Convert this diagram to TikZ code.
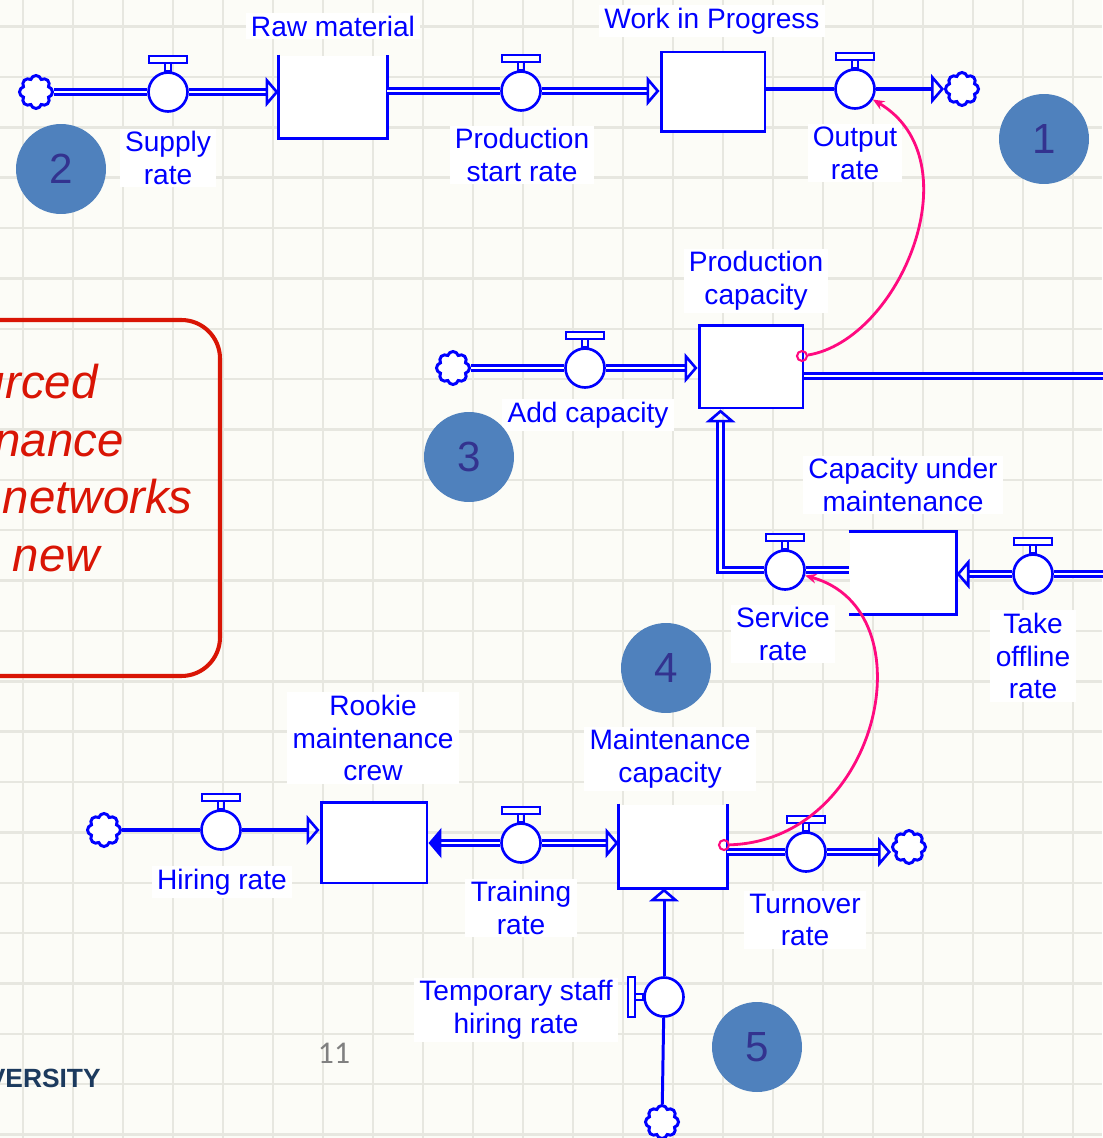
\documentclass[tikz,border=0pt]{standalone}
\usepackage{fontspec}
\setmainfont{Liberation Sans}
\newfontfamily\pagefont{Carlito}
\usetikzlibrary{arrows.meta,shapes.symbols}
\definecolor{sdblue}{HTML}{0000FF}
\definecolor{sdpink}{HTML}{FF0A80}
\definecolor{tagblue}{HTML}{4F81BD}
\definecolor{tagtext}{HTML}{33338F}
\definecolor{boxred}{HTML}{D91505}
\definecolor{gridc}{HTML}{E7E7E0}
\definecolor{paper}{HTML}{FCFCF7}
\definecolor{uninavy}{HTML}{1C3A5E}
\def\px{0.02cm}
% valve handle on top / on the left of a valve node
\newcommand{\valvetop}[1]{%
  \draw[handle] ([xshift=-3*\px]#1.north) rectangle ([xshift=3*\px,yshift=8*\px]#1.north);
  \draw[handle,fill=white] ([xshift=-19*\px,yshift=8*\px]#1.north) rectangle ([xshift=19*\px,yshift=15*\px]#1.north);}
\newcommand{\valveleft}[1]{%
  \draw[handle] ([yshift=-3*\px]#1.west) rectangle ([xshift=-8*\px,yshift=3*\px]#1.west);
  \draw[handle,fill=white] ([xshift=-8*\px,yshift=-20*\px]#1.west) rectangle ([xshift=-15*\px,yshift=20*\px]#1.west);}

\begin{document}
\begin{tikzpicture}[x=0.02cm,y=-0.02cm,font=\fontsize{16}{18.7}\selectfont,
  Inlet/.tip={Triangle[open,length=7.4pt,width=17pt,line width=1.5pt]},
  gridline/.style={draw=gridc,line width=1.4pt},
  stock/.style={draw=sdblue,fill=white,line width=1.7pt,minimum width=2.12cm,minimum height=1.62cm,inner sep=0pt},
  stockopen/.style={stock,draw=none},
  stockline/.style={draw=sdblue,line width=1.7pt},
  valve/.style={circle,draw=sdblue,fill=white,line width=1.5pt,minimum size=0.78cm,inner sep=0pt},
  handle/.style={draw=sdblue,line width=1.4pt},
  cloudy/.style={cloud,cloud puffs=8,aspect=1,draw=sdblue,fill=white,line width=1.7pt,minimum width=0.66cm,minimum height=0.66cm,inner sep=0pt},
  pipe2/.style={draw=sdblue,line width=1.8pt,double=white,double distance=1.5pt},
  pipe1/.style={draw=sdblue,line width=2.4pt},
  lbl/.style={fill=white,text=sdblue,align=center,inner xsep=3pt,inner ysep=1.5pt},
  tag/.style={circle,fill=tagblue,text=tagtext,minimum size=1.8cm,inner sep=0pt,font=\fontsize{24}{24}\selectfont},
  ring/.style={circle,draw=sdpink,line width=1.2pt,minimum size=0.2cm,inner sep=0pt},
  info/.style={draw=sdpink,line width=1.6pt,-{Stealth[length=6.5pt,width=5.5pt]}},
  redtxt/.style={text=boxred,anchor=base east,font=\fontsize{27}{32}\selectfont\itshape,inner sep=0pt}]
  \useasboundingbox (0,0) rectangle (1102,1138);
  \fill[paper] (0,0) rectangle (1102,1138);
  % ---- grid ----
  \foreach \gx in {0,...,21} \draw[gridline] ({23+50*\gx},0) -- ({23+50*\gx},1138);
  \foreach \gy in {0,...,22} \draw[gridline] (0,{26.6+50.36*\gy}) -- (1102,{26.6+50.36*\gy});
  % ---- red call-out, cut by the left edge ----
  \draw[boxred,line width=2.3pt,rounded corners=22pt] (-80,320) rectangle (220,676);
  \node[redtxt] (r1) at (98,398) {urced};
  \node[redtxt] (r2) at (124,456) {nance};
  \node[redtxt] (r3) at (193,513) {networks};
  \node[redtxt] (r4) at (100,571) {new};
  % ---- stocks ----
  \node[stockopen] (raw) at (333,96.5) {};
  \draw[stockline] (raw.north west) -- (raw.south west) -- (raw.south east) -- (raw.north east);
  \node[stock,minimum width=2.08cm,minimum height=1.6cm] (wip) at (713,92) {};
  \node[stock,minimum width=2.08cm,minimum height=1.66cm] (pcap) at (751,366.5) {};
  \node[stockopen,minimum width=2.1cm,minimum height=1.6cm] (cum) at (902.5,573) {};
  \draw[stockline] (cum.north west) -- (cum.north east) -- (cum.south east) -- (cum.south west);
  \node[stock] (rook) at (374,842.5) {};
  \node[stockopen,minimum height=1.64cm] (mcap) at (673,846) {};
  \draw[stockline] (mcap.north west) -- (mcap.south west) -- (mcap.south east) -- (mcap.north east);
  % ---- clouds ----
  \node[cloudy] (cldA) at (36,92) {};
  \node[cloudy] (cldB) at (962,89) {};
  \node[cloudy] (cldC) at (453,368) {};
  \node[cloudy] (cldD) at (104,830) {};
  \node[cloudy] (cldE) at (909,847) {};
  \node[cloudy] (cldF) at (662,1122) {};
  % ---- valves ----
  \node[valve] (supv) at (168,92) {};
  \node[valve] (startv) at (521,91) {};
  \node[valve] (outv) at (855,89) {};
  \node[valve] (addv) at (585,368) {};
  \node[valve] (servv) at (785,570) {};
  \node[valve] (offv) at (1033,574) {};
  \node[valve] (hirev) at (221,830) {};
  \node[valve] (trainv) at (521,843) {};
  \node[valve] (turnv) at (806,852) {};
  \node[valve] (tempv) at (664,997) {};
  \foreach \v in {supv,startv,outv,addv,servv,offv,hirev,trainv,turnv} {\valvetop{\v}}
  \valveleft{tempv}
  \coordinate (pcapout) at (1120,376);
  \coordinate (offsrc) at (1120,574);
  % ---- flows ----
  \draw[pipe2] (cldA) -- (supv);
  \draw[pipe2,-Inlet] (supv) -- (supv -| raw.west);
  \draw[pipe2] (raw.east |- startv) -- (startv);
  \draw[pipe2,-Inlet] (startv) -- (startv -| wip.west);
  \draw[pipe1] (wip.east |- outv) -- (outv);
  \draw[pipe1,-Inlet] (outv) -- (cldB);
  \draw[pipe2] (cldC) -- (addv);
  \draw[pipe2,-Inlet] (addv) -- (addv -| pcap.west);
  \draw[pipe2] (pcap.east |- pcapout) -- (pcapout);
  \draw[pipe2,-Inlet] (servv) -| ([xshift=23*\px]pcap.south west);
  \draw[pipe2] (servv) -- (servv -| cum.west);
  \draw[pipe2] (offsrc) -- (offv);
  \draw[pipe2,-Inlet] (offv) -- (offv -| cum.east);
  \draw[pipe1,line width=2.8pt] (cldD) -- (hirev);
  \draw[pipe1,line width=2.8pt,-Inlet] (hirev) -- (hirev -| rook.west);
  \draw[pipe2,{Triangle[length=7.4pt,width=17pt]}-] (rook.east |- trainv) -- (trainv);
  \draw[pipe2,-Inlet] (trainv) -- (trainv -| mcap.west);
  \draw[pipe2] (mcap.east |- turnv) -- (turnv);
  \draw[pipe2,-Inlet] (turnv) -- (turnv -| cldE.west);
  \draw[pipe1,line width=1.7pt] (cldF) -- (tempv);
  \draw[pipe1,line width=1.7pt,-Inlet] (tempv) -- (tempv |- mcap.south);
  % ---- labels ----
  \node[lbl] (lraw) at (333,26) {Raw material};
  \node[lbl] (lwip) at (712,21) {Work in Progress};
  \node[lbl] (lsup) at (168,158) {Supply\\rate};
  \node[lbl] (lstart) at (522,155) {Production\\start rate};
  \node[lbl] (lout) at (855,153) {Output\\rate};
  \node[lbl] (lpcap) at (756,281) {Production\\capacity};
  \node[lbl] (ladd) at (588,415) {Add capacity};
  \node[lbl] (lcum) at (903,485) {Capacity under\\maintenance};
  \node[lbl] (lserv) at (783,634) {Service\\rate};
  \node[lbl] (loff) at (1033,656) {Take\\offline\\rate};
  \node[lbl] (lrook) at (373,738) {Rookie\\maintenance\\crew};
  \node[lbl] (lmcap) at (670,759) {Maintenance\\capacity};
  \node[lbl] (lhire) at (222,882) {Hiring rate};
  \node[lbl] (ltrain) at (521,908) {Training\\rate};
  \node[lbl] (lturn) at (805,920) {Turnover\\rate};
  \node[lbl] (ltemp) at (516,1010) {Temporary staff\\hiring rate};
  % ---- information links ----
  \node[ring] (o1) at (802,356) {};
  \node[ring] (o2) at (724,845) {};
  \draw[info] (o1) .. controls (900,340) and (975,160) .. (outv);
  \draw[info] (o2) .. controls (880,840) and (930,610) .. (servv);
  % ---- numbered tags ----
  \node[tag] (t1) at (1044,139) {1};
  \node[tag] (t2) at (61,169) {2};
  \node[tag] (t3) at (469,457) {3};
  \node[tag] (t4) at (666,668) {4};
  \node[tag] (t5) at (757,1047) {5};
  % ---- slide furniture ----
  \node[text=gray,font=\pagefont\fontsize{18}{18}\selectfont] (pg) at (334,1053) {11};
  \node[anchor=base east,text=uninavy,inner sep=0pt,font=\fontsize{15}{15}\selectfont\bfseries] (uni) at (101,1087) {VERSITY};
\end{tikzpicture}
\end{document}
